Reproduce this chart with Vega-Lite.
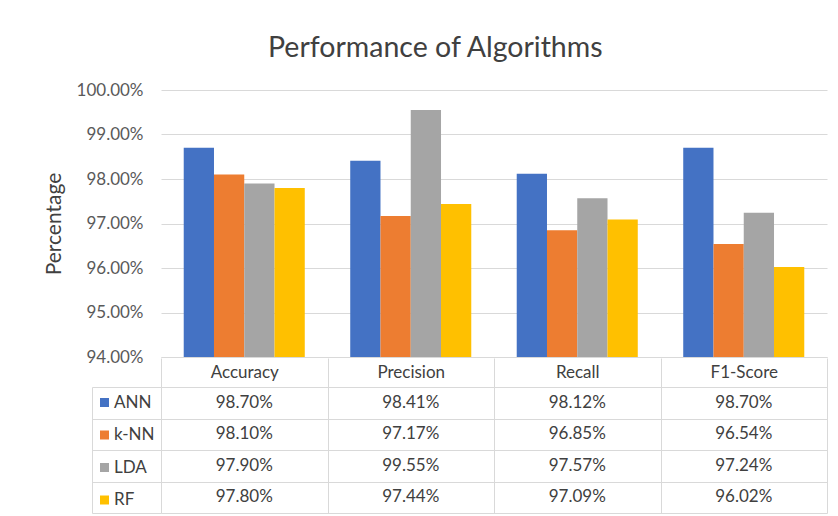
{
  "$schema": "https://vega.github.io/schema/vega-lite/v6.json",
  "padding": {"left": 43, "top": 33, "right": 0, "bottom": 0},
  "background": "white",
  "title": {
    "text": "Performance of Algorithms",
    "font": "Lato",
    "fontSize": 28.5,
    "fontWeight": "normal",
    "color": "#404040",
    "anchor": "middle",
    "offset": 19
  },
  "config": {
    "font": "Lato",
    "view": {"stroke": null}
  },
  "data": {
    "values": [
      {"metric": "Accuracy", "algo": "ANN", "value": 0.9870},
      {"metric": "Accuracy", "algo": "k-NN", "value": 0.9810},
      {"metric": "Accuracy", "algo": "LDA", "value": 0.9790},
      {"metric": "Accuracy", "algo": "RF", "value": 0.9780},
      {"metric": "Precision", "algo": "ANN", "value": 0.9841},
      {"metric": "Precision", "algo": "k-NN", "value": 0.9717},
      {"metric": "Precision", "algo": "LDA", "value": 0.9955},
      {"metric": "Precision", "algo": "RF", "value": 0.9744},
      {"metric": "Recall", "algo": "ANN", "value": 0.9812},
      {"metric": "Recall", "algo": "k-NN", "value": 0.9685},
      {"metric": "Recall", "algo": "LDA", "value": 0.9757},
      {"metric": "Recall", "algo": "RF", "value": 0.9709},
      {"metric": "F1-Score", "algo": "ANN", "value": 0.9870},
      {"metric": "F1-Score", "algo": "k-NN", "value": 0.9654},
      {"metric": "F1-Score", "algo": "LDA", "value": 0.9724},
      {"metric": "F1-Score", "algo": "RF", "value": 0.9602}
    ]
  },
  "resolve": {"scale": {"color": "independent"}, "legend": {"color": "independent"}},
  "spacing": -8,
  "vconcat": [
    {
      "width": 666,
      "height": 267,
      "mark": {"type": "bar", "clip": true},
      "encoding": {
        "x": {
          "field": "metric", "type": "nominal",
          "sort": ["Accuracy", "Precision", "Recall", "F1-Score"],
          "scale": {"paddingInner": 0.273, "paddingOuter": 0.1365},
          "axis": {"title": null, "labels": false, "ticks": false, "domain": true, "domainColor": "#D9D9D9", "grid": false}
        },
        "xOffset": {
          "field": "algo", "type": "nominal",
          "sort": ["ANN", "k-NN", "LDA", "RF"],
          "scale": {"paddingInner": 0, "paddingOuter": 0}
        },
        "y": {
          "field": "value", "type": "quantitative",
          "scale": {"domain": [0.94, 1.0], "zero": false, "nice": false},
          "axis": {
            "title": "Percentage",
            "titleFontSize": 21,
            "titleFontWeight": "normal",
            "titleColor": "#404040",
            "titlePadding": 12,
            "format": ".2%",
            "values": [0.94, 0.95, 0.96, 0.97, 0.98, 0.99, 1.0],
            "labelFontSize": 17,
            "labelColor": "#595959",
            "labelPadding": 18,
            "ticks": false,
            "domain": false,
            "grid": true,
            "gridColor": "#D9D9D9",
            "gridWidth": 1
          }
        },
        "color": {
          "field": "algo", "type": "nominal",
          "scale": {"domain": ["ANN", "k-NN", "LDA", "RF"], "range": ["#4472C4", "#ED7D31", "#A5A5A5", "#FFC000"]},
          "legend": null
        }
      }
    },
    {
      "width": 666,
      "height": 126,
      "encoding": {
        "x": {
          "field": "metric", "type": "nominal",
          "sort": ["Accuracy", "Precision", "Recall", "F1-Score"],
          "scale": {"paddingInner": 0, "paddingOuter": 0},
          "axis": {
            "orient": "top",
            "title": null,
            "labelFontSize": 17,
            "labelColor": "#404040",
            "labelAngle": 0,
            "labelBaseline": "middle",
            "labelPadding": -14.5,
            "tickBand": "extent",
            "ticks": true,
            "tickSize": 29,
            "tickColor": "#D9D9D9",
            "domain": true,
            "domainColor": "#D9D9D9",
            "grid": true,
            "gridColor": "#D9D9D9"
          }
        },
        "y": {
          "field": "algo", "type": "nominal",
          "sort": ["ANN", "k-NN", "LDA", "RF"],
          "scale": {"paddingInner": 0, "paddingOuter": 0},
          "axis": {
            "title": null,
            "labels": false,
            "offset": 69,
            "tickBand": "extent",
            "ticks": true,
            "tickSize": -69,
            "tickColor": "#D9D9D9",
            "domain": true,
            "domainColor": "#D9D9D9",
            "grid": true,
            "gridColor": "#D9D9D9"
          }
        }
      },
      "layer": [
        {
          "mark": {"type": "text", "fontSize": 17, "color": "#404040", "font": "Lato"},
          "encoding": {
            "text": {"field": "value", "type": "quantitative", "format": ".2%"}
          }
        },
        {
          "mark": {"type": "square", "opacity": 0, "size": 1},
          "encoding": {
            "color": {
              "field": "algo", "type": "nominal",
              "scale": {"domain": ["ANN", "k-NN", "LDA", "RF"], "range": ["#4472C4", "#ED7D31", "#A5A5A5", "#FFC000"]},
              "legend": {
                "title": null,
                "orient": "none",
                "legendX": -65,
                "legendY": 7,
                "padding": 0,
                "symbolType": "square",
                "symbolSize": 81,
                "symbolOpacity": 1,
                "symbolStrokeWidth": 0,
                "labelFontSize": 17,
                "labelColor": "#404040",
                "labelOffset": 1,
                "rowPadding": 14.5
              }
            }
          }
        }
      ]
    }
  ]
}
